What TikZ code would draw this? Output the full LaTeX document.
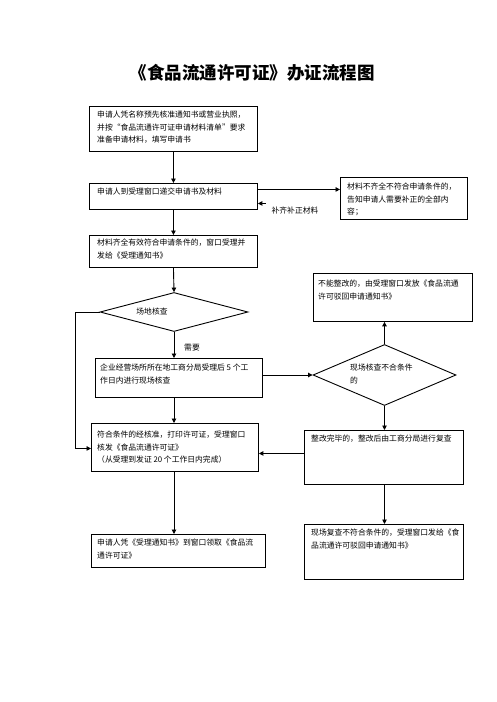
\documentclass[tikz,border=0pt]{standalone}
\usepackage{fontspec}
\setmainfont{Noto Sans CJK SC}
\usetikzlibrary{positioning}
\usetikzlibrary{shapes.geometric}
\usetikzlibrary{arrows.meta}

\begin{document}
\begin{tikzpicture}[x=1pt, y=-1pt,
    box/.style={draw, line width=0.9pt, inner sep=0pt, anchor=north west},
    dia/.style={draw, diamond, line width=0.9pt, inner sep=0pt},
    txt/.style={inner sep=0pt, align=left, font=\fontsize{7.8}{12.5}\selectfont},
    arr/.style={-{Triangle[length=4.5pt,width=4.5pt]}, line width=0.9pt}]
            \useasboundingbox (0,0) rectangle (496,702);
            \node[font=\fontsize{17.5}{20}\selectfont\bfseries] (title) at (252,73) {《食品流通许可证》办证流程图};

            \node[box, minimum width=168pt, minimum height=45pt] (b1) at (89,106) {};
            \node[box, minimum width=168pt, minimum height=26pt] (b2) at (89,183) {};
            \node[box, minimum width=168pt, minimum height=32pt] (b3) at (89,235) {};
            \node[box, minimum width=127pt, minimum height=42pt] (bR) at (340,177) {};
            \node[dia, minimum width=148pt, minimum height=39pt] (d1) at (174,312) {};
            \node[box, minimum width=167pt, minimum height=39pt] (b4) at (95,358) {};
            \node[box, minimum width=159pt, minimum height=48pt] (bT) at (313,273) {};
            \node[dia, minimum width=143pt, minimum height=61pt] (d2) at (384.5,375) {};
            \node[box, minimum width=167pt, minimum height=48pt] (b5) at (91,423) {};
            \node[box, minimum width=159pt, minimum height=54pt] (b6) at (304,430) {};
            \node[box, minimum width=174pt, minimum height=33pt] (b7) at (91,534) {};
            \node[box, minimum width=159pt, minimum height=55pt] (b8) at (304,524) {};

            \node[txt, below right=5pt and 8pt of b1.north west] (t1) {申请人凭名称预先核准通知书或营业执照，\\并按“食品流通许可证申请材料清单”要求\\准备申请材料，填写申请书};
            \node[txt, below right=5pt and 8pt of b2.north west] (t2) {申请人到受理窗口递交申请书及材料};
            \node[txt, below right=4pt and 8pt of b3.north west] (t3) {材料齐全有效符合申请条件的，窗口受理并\\发给《受理通知书》};
            \node[txt, below right=6pt and 7pt of bR.north west] (tR) {材料不齐全不符合申请条件的，\\告知申请人需要补正的全部内\\容；};
            \node[txt] (td1) at (152,312) {场地核查};
            \node[txt, below right=6pt and 5pt of b4.north west] (t4) {企业经营场所所在地工商分局受理后 5 个工\\作日内进行现场核查};
            \node[txt, below right=7pt and 5pt of bT.north west] (tT) {不能整改的，由受理窗口发放《食品流通\\许可驳回申请通知书》};
            \node[txt, anchor=west] (td2) at (350,374) {现场核查不合条件\\的};
            \node[txt, below right=8pt and 6pt of b5.north west] (t5) {符合条件的经核准，打印许可证，受理窗口\\核发《食品流通许可证》\\（从受理到发证 20 个工作日内完成）};
            \node[txt, below right=5pt and 7pt of b6.north west] (t6) {整改完毕的，整改后由工商分局进行复查};
            \node[txt, below right=5pt and 6pt of b7.north west] (t7) {申请人凭《受理通知书》到窗口领取《食品流\\通许可证》};
            \node[txt, below right=5pt and 7pt of b8.north west] (t8) {现场复查不符合条件的，受理窗口发给《食\\品流通许可驳回申请通知书》};

            \draw[arr] (b1.south) -- (b2.north);
            \draw[arr] ([yshift=7pt]b2.east) -- ([yshift=7pt]b2.east -| bR.west);
            \draw[arr] ([xshift=8pt,yshift=-7pt]b2.east) -- ([yshift=-7pt]b2.east);
            \node[txt] (lab1) at (295,211) {补齐补正材料};
            \draw[arr] (b2.south) -- (b3.north);
            \draw[arr] (b3.south) -- (d1.north);
            \draw[arr] (d1.south) -- (d1.south |- b4.north);
            \node[txt] (lab2) at (192,348) {需要};
            \draw[arr] (d1.west) -- ++(-24,0) |- ([yshift=-1pt]b5.west);
            \draw[arr] (b4.east |- d2.west) -- (d2.west);
            \draw[arr] (d2.north) -- (d2.north |- bT.south);
            \draw[arr] (d2.south) -- (d2.south |- b6.north);
            \draw[arr] ([yshift=4pt]b6.west) -- ([yshift=4pt]b6.west -| b5.east);
            \draw[arr] (b4.south -| d1.south) -- (d1.south |- b5.north);
            \draw[arr] (b5.south -| d1.south) -- (d1.south |- b7.north);
            \draw[arr] (b6.south -| d2.south) -- (d2.south |- b8.north);
        \end{tikzpicture}
\end{document}
